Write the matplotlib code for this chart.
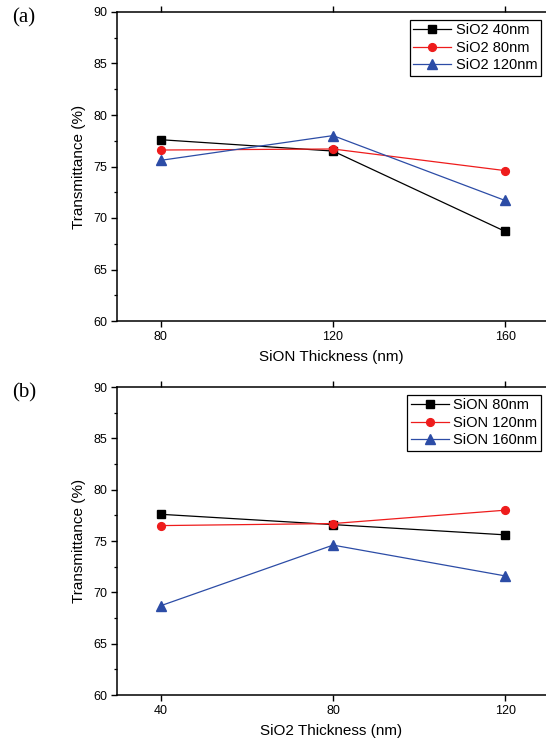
import matplotlib
matplotlib.use("Agg")
import matplotlib.pyplot as plt
from matplotlib.ticker import MultipleLocator

plt.rcParams['font.family'] = ['Liberation Sans', 'DejaVu Sans']

# Panel (a): x = SiON thickness, series = SiO2 thickness
sion_x = [80, 120, 160]
a_labels = ["SiO2 40nm", "SiO2 80nm", "SiO2 120nm"]
a_sio2_40 = [77.6, 76.5, 68.7]
a_sio2_80 = [76.6, 76.7, 74.6]
a_sio2_120 = [75.6, 78.0, 71.7]

# Panel (b): x = SiO2 thickness, series = SiON thickness
sio2_x = [40, 80, 120]
b_labels = ["SiON 80nm", "SiON 120nm", "SiON 160nm"]
b_sion_80 = [77.6, 76.6, 75.6]
b_sion_120 = [76.5, 76.7, 78.0]
b_sion_160 = [68.7, 74.6, 71.6]

colors = ["black", "#ee1c1c", "#2c4ca6"]
markers = ["s", "o", "^"]
msizes = [5.2, 5.6, 6.5]

fig = plt.figure(figsize=(5.46, 7.43), dpi=100)

def panel(rect, x, series, labels, xlim, xlabel, tag, tag_y):
    ax = fig.add_axes(rect)
    for y, lab, c, m, ms in zip(series, labels, colors, markers, msizes):
        ax.plot(x, y, color=c, marker=m, markersize=ms, linewidth=0.9, label=lab)
    ax.set_xlim(*xlim)
    ax.set_ylim(60, 90)
    ax.set_xticks(x)
    ax.yaxis.set_major_locator(MultipleLocator(5))
    ax.yaxis.set_minor_locator(MultipleLocator(2.5))
    ax.spines['right'].set_visible(False)
    for s in ['left', 'bottom', 'top']:
        ax.spines[s].set_linewidth(1.1)
    ax.tick_params(axis='both', which='major', direction='out', length=4, width=1,
                   labelsize=9, top=True, right=False, pad=3)
    ax.tick_params(axis='y', which='minor', direction='out', length=2.5, width=0.9)
    ax.set_xlabel(xlabel, fontsize=11, labelpad=5)
    ax.set_ylabel("Transmittance (%)", fontsize=11, labelpad=5)
    leg = ax.legend(loc='upper right', bbox_to_anchor=(0.995, 0.985), fontsize=10.5,
                    frameon=True, fancybox=False, edgecolor='black', framealpha=1,
                    borderpad=0.25, labelspacing=0.25, handlelength=2.6,
                    handletextpad=0.3, borderaxespad=0.2)
    leg.get_frame().set_linewidth(0.9)
    fig.text(12 / 546, 1 - tag_y / 743, tag, fontsize=15, family='Liberation Serif',
             va='center', ha='left')
    return ax

w = (546 - 117) / 546
panel([117 / 546, 1 - 321 / 743, w, 309 / 743], sion_x,
      [a_sio2_40, a_sio2_80, a_sio2_120], a_labels, (69.8, 169.5),
      "SiON Thickness (nm)", "(a)", 18)
panel([117 / 546, 1 - 695 / 743, w, 308 / 743], sio2_x,
      [b_sion_80, b_sion_120, b_sion_160], b_labels, (29.8, 129.5),
      "SiO2 Thickness (nm)", "(b)", 393)

fig.savefig("out.png", dpi=100)
